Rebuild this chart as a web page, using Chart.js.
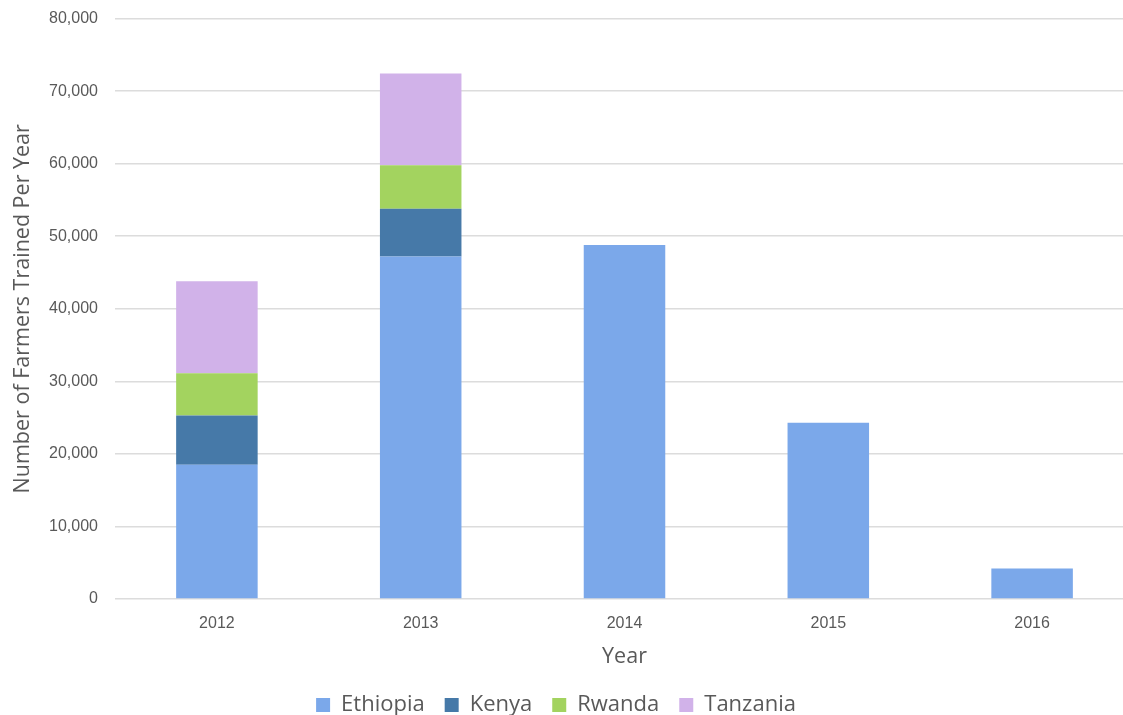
<!DOCTYPE html>
<html>
<head>
<meta charset="utf-8">
<script src="https://cdn.jsdelivr.net/npm/chart.js@4"></script>
<style>
  html, body { margin: 0; padding: 0; background: #fff; overflow: hidden; }
  #wrap { width: 1140px; height: 723px; margin-top: -8px; }
</style>
</head>
<body>
<div id="wrap"><canvas id="myChart"></canvas></div>
<script>
const years = ['2012', '2013', '2014', '2015', '2016'];
const ethiopia = [18500, 47200, 48800, 24300, 4200];
const kenya = [6800, 6600, 0, 0, 0];
const rwanda = [5800, 6000, 0, 0, 0];
const tanzania = [12700, 12650, 0, 0, 0];

const textColor = '#595959';
const titleFont = "'Open Sans', 'Liberation Sans', sans-serif";
const tickFont = "'Liberation Sans', Arial, sans-serif";

function makeSet(label, data, color) {
  return {
    label: label,
    data: data,
    backgroundColor: color,
    borderWidth: 0,
    barPercentage: 0.4,
    categoryPercentage: 1.0
  };
}

// legend in the original sits a bit left of the plot centre
const legendShift = {
  id: 'legendShift',
  afterLayout(chart) {
    chart.legend.left -= 16;
    chart.legend.right -= 16;
  }
};

const ctx = document.getElementById('myChart').getContext('2d');
new Chart(ctx, {
  type: 'bar',
  data: {
    labels: years,
    datasets: [
      makeSet('Ethiopia', ethiopia, '#7ba8ea'),
      makeSet('Kenya', kenya, '#4679a8'),
      makeSet('Rwanda', rwanda, '#a3d35f'),
      makeSet('Tanzania', tanzania, '#d1b2e9')
    ]
  },
  plugins: [legendShift],
  options: {
    responsive: true,
    maintainAspectRatio: false,
    animation: false,
    layout: { padding: { top: 0, left: 10, right: 6, bottom: -11 } },
    plugins: {
      tooltip: { enabled: false },
      legend: {
        position: 'bottom',
        labels: {
          color: textColor,
          font: { family: titleFont, size: 22 },
          boxWidth: 14,
          boxHeight: 14,
          padding: 20
        }
      }
    },
    scales: {
      x: {
        stacked: true,
        grid: { display: false, drawTicks: false },
        border: { display: false },
        ticks: { color: textColor, font: { family: tickFont, size: 16 }, padding: 15 },
        title: {
          display: true,
          text: 'Year',
          color: textColor,
          font: { family: titleFont, size: 21.5 },
          padding: { top: -4, bottom: 4 }
        }
      },
      y: {
        stacked: true,
        min: 0,
        max: 80000,
        grid: { color: '#dcdcdc', lineWidth: 1.5, drawTicks: false },
        border: { display: false },
        afterFit(scale) { scale.width = 105; },
        ticks: {
          stepSize: 10000,
          color: textColor,
          font: { family: tickFont, size: 16 },
          padding: 17,
          callback: v => v.toLocaleString('en-US')
        },
        title: {
          display: true,
          text: 'Number of Farmers Trained Per Year',
          color: textColor,
          font: { family: titleFont, size: 21.5 },
          padding: { top: 0, bottom: 0 }
        }
      }
    }
  }
});
</script>
</body>
</html>
